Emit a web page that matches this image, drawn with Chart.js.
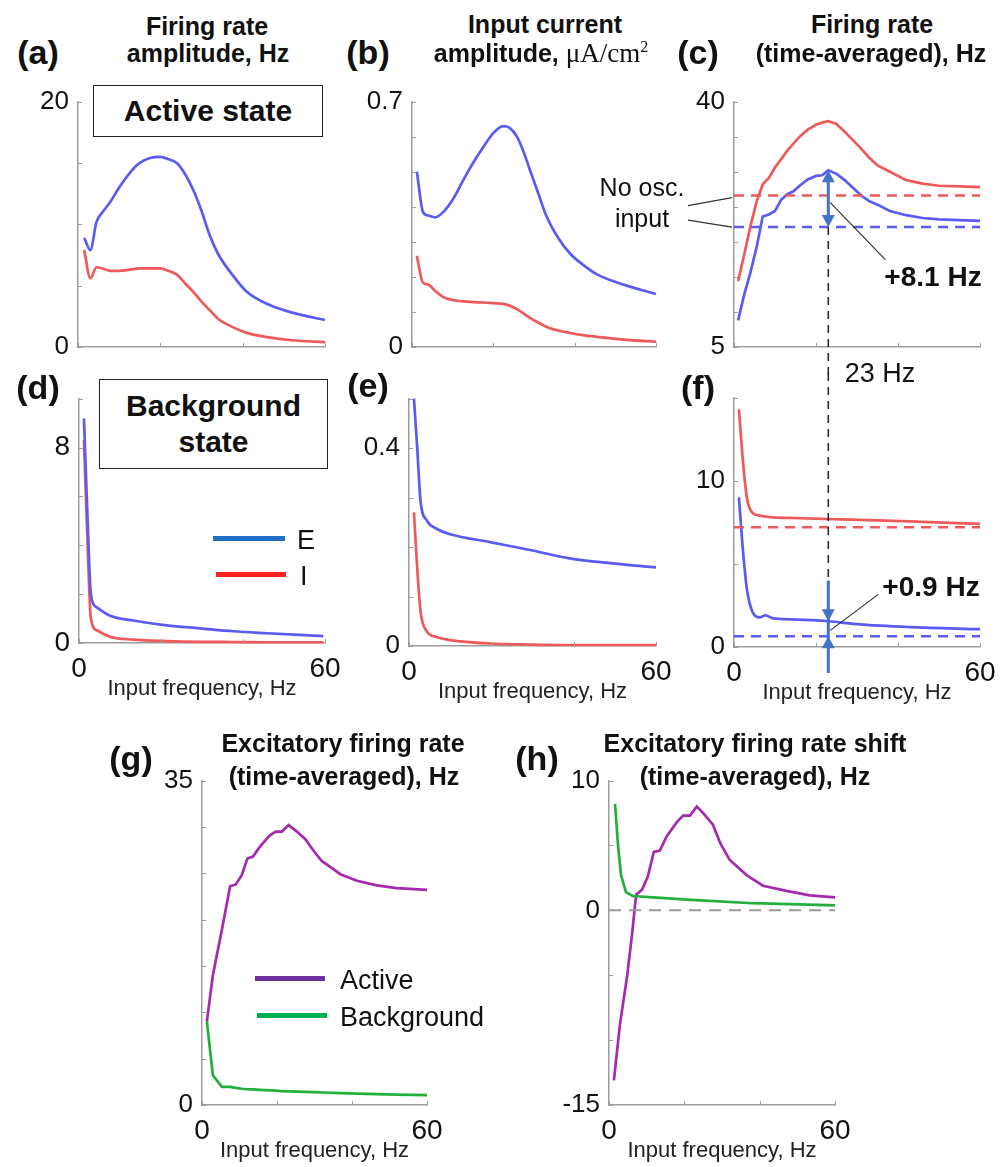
<!DOCTYPE html>
<html><head><meta charset="utf-8">
<script src="https://cdn.jsdelivr.net/npm/chart.js@4.4.1/dist/chart.umd.min.js"></script>
<style>
body{margin:0;background:#fff;width:1002px;height:1167px;position:relative;overflow:hidden;font-family:"Liberation Sans",Arial,sans-serif;color:#111}
canvas{position:absolute}
.t{position:absolute;white-space:nowrap;transform:translate(-50%,-50%);z-index:5;line-height:1}
.l{position:absolute;white-space:nowrap;transform:translate(0,-50%);z-index:5;line-height:1}
.b{font-weight:bold}
.ttl{font-weight:bold;font-size:25px}
.pl{font-weight:bold;font-size:34px}
.box{position:absolute;border:1.5px solid #222;background:#fff;z-index:4;box-sizing:border-box;display:flex;flex-direction:column;align-items:center;justify-content:center;font-weight:bold;font-size:30px;line-height:36px}
.leg{position:absolute;height:5px;z-index:5}
.serif{font-family:"Liberation Serif","Times New Roman",serif;font-weight:normal;font-size:27px}
</style></head><body>

<div class="t pl" style="left:38px;top:52px">(a)</div>
<div class="t ttl" style="left:207px;top:26px">Firing rate</div>
<div class="t ttl" style="left:208px;top:53px">amplitude, Hz</div>
<div class="t pl" style="left:368px;top:52px">(b)</div>
<div class="t ttl" style="left:545px;top:24px">Input current</div>
<div class="t ttl" style="left:541px;top:53px">amplitude, <span class="serif">μA/cm<sup style="font-size:16px">2</sup></span></div>
<div class="t pl" style="left:698px;top:52px">(c)</div>
<div class="t ttl" style="left:872px;top:24px">Firing rate</div>
<div class="t ttl" style="left:871px;top:53px">(time-averaged), Hz</div>

<div class="box" style="left:93px;top:85px;width:230px;height:52px">Active state</div>

<div class="t pl" style="left:38px;top:387px">(d)</div>
<div class="t pl" style="left:368px;top:385px">(e)</div>
<div class="t pl" style="left:698px;top:387px">(f)</div>
<div class="box" style="left:99px;top:379px;width:229px;height:90px"><div>Background</div><div>state</div></div>

<div class="leg" style="left:213px;top:536px;width:72px;background:#1f6fc5"></div>
<div class="l" style="left:297px;top:540px;font-size:27px">E</div>
<div class="leg" style="left:216px;top:572px;width:70px;background:#ff2020"></div>
<div class="l" style="left:300px;top:576px;font-size:27px">I</div>

<div class="t" style="left:642px;top:187px;font-size:25px">No osc.</div>
<div class="t" style="left:642px;top:218px;font-size:25px">input</div>
<div class="t b" style="left:933px;top:277px;font-size:28px">+8.1 Hz</div>
<div class="t" style="left:880px;top:373px;font-size:27px">23 Hz</div>
<div class="t b" style="left:931px;top:587px;font-size:28px">+0.9 Hz</div>

<div class="t pl" style="left:131px;top:758px">(g)</div>
<div class="t ttl" style="left:343px;top:743px">Excitatory firing rate</div>
<div class="t ttl" style="left:344px;top:776px">(time-averaged), Hz</div>
<div class="t pl" style="left:537px;top:758px">(h)</div>
<div class="t ttl" style="left:755px;top:743px">Excitatory firing rate shift</div>
<div class="t ttl" style="left:755px;top:776px">(time-averaged), Hz</div>

<div class="leg" style="left:255px;top:976px;width:70px;background:#7030a0"></div>
<div class="l" style="left:340px;top:980px;font-size:27px">Active</div>
<div class="leg" style="left:257px;top:1013px;width:70px;background:#00b050"></div>
<div class="l" style="left:340px;top:1017px;font-size:27px">Background</div>

<script>
// ---------------- DATA ----------------
const xTicks = [0, 20, 40, 60];
const xTickLabels = ['0', '', '', '60'];

// (a) firing rate amplitude, active state
const freqA = [1.5, 3, 4.5, 6, 7.8, 10, 12.6, 15, 17.5, 20, 22, 24, 26, 28, 30, 32, 34, 37.7, 41, 46, 52, 60];
const ampActiveE = [8.9, 7.9, 10.2, 11.0, 11.8, 13.0, 14.2, 15.0, 15.4, 15.5, 15.3, 15.0, 14.1, 12.8, 11.1, 9.1, 7.6, 5.8, 4.5, 3.5, 2.8, 2.2];
const ampActiveI = [7.9, 5.6, 6.5, 6.4, 6.2, 6.2, 6.3, 6.4, 6.4, 6.4, 6.2, 5.9, 5.2, 4.5, 3.7, 3.0, 2.3, 1.6, 1.15, 0.8, 0.55, 0.4];
const yTicksA = [0, 5, 10, 15, 20];
const yLabelsA = ['0', '', '', '', '20'];

// (b) input current amplitude, active state
const freqB = [1.2, 2.7, 4, 5.7, 7.6, 10, 12.6, 15, 17.5, 20, 22.4, 24, 25.8, 27.5, 29, 31, 33, 36, 38.9, 42, 45.5, 52, 60];
const curActiveE = [0.50, 0.385, 0.375, 0.37, 0.384, 0.42, 0.476, 0.525, 0.57, 0.61, 0.63, 0.625, 0.60, 0.555, 0.505, 0.44, 0.375, 0.31, 0.266, 0.235, 0.207, 0.178, 0.151];
const curActiveI = [0.26, 0.183, 0.178, 0.16, 0.143, 0.134, 0.13, 0.128, 0.127, 0.125, 0.123, 0.118, 0.108, 0.095, 0.083, 0.07, 0.058, 0.047, 0.04, 0.034, 0.029, 0.021, 0.015];
const yTicksB = [0, 0.1, 0.2, 0.3, 0.4, 0.5, 0.6, 0.7];
const yLabelsB = ['0', '', '', '', '', '', '', '0.7'];

// (c) time-averaged firing rate, active state
const freqC = [1, 2.5, 4, 5.5, 7, 8.5, 10, 11.5, 13, 14.5, 16, 18, 20, 21.5, 23, 25, 27, 29, 31, 33, 35, 38, 42, 46, 50, 55, 60];
const meanActiveE = [8.8, 12.5, 15.6, 19.2, 23.6, 23.9, 24.4, 26.0, 26.8, 27.2, 28.0, 28.9, 29.4, 29.5, 30.2, 29.7, 28.8, 27.7, 26.6, 25.8, 25.3, 24.4, 23.8, 23.4, 23.2, 23.1, 23.0];
const meanActiveI = [14.4, 18.2, 22.2, 25.7, 28.2, 29.1, 30.6, 31.8, 33.0, 34.0, 35.0, 36.0, 36.7, 37.0, 37.2, 36.8, 35.7, 34.5, 33.3, 32.0, 30.9, 30.0, 28.8, 28.3, 28.0, 27.9, 27.8];
const noOscActiveE = 22.1;
const noOscActiveI = 26.6;
const yTicksC = [5, 10, 15, 20, 25, 30, 35, 40];
const yLabelsC = ['5', '', '', '', '', '', '', '40'];

const markFreq = 23;   // highlighted input frequency, Hz

// (d) firing rate amplitude, background state
const freqD = [1.2, 2.0, 2.9, 4.4, 7.6, 13.2, 21.4, 29.5, 37.6, 45.8, 59.6];
const ampBgE = [9.2, 5.5, 2.0, 1.45, 1.12, 0.92, 0.72, 0.6, 0.48, 0.4, 0.28];
const ampBgI = [8.3, 4.5, 1.0, 0.52, 0.25, 0.14, 0.08, 0.05, 0.04, 0.03, 0.03];
const yTicksD = [0, 2, 4, 6, 8, 10];
const yLabelsD = ['0', '', '', '', '8', ''];

// (e) input current amplitude, background state
const freqE = [1.2, 2.0, 2.8, 4.3, 6.7, 10, 19.7, 29.4, 39, 49.5, 60];
const curBgE = [0.50, 0.40, 0.293, 0.254, 0.237, 0.226, 0.21, 0.194, 0.177, 0.167, 0.159];
const curBgI = [0.27, 0.157, 0.07, 0.03, 0.018, 0.012, 0.005, 0.003, 0.002, 0.002, 0.002];
const yTicksE = [0, 0.1, 0.2, 0.3, 0.4, 0.5];
const yLabelsE = ['0', '', '', '', '0.4', ''];

// (f) time-averaged firing rate, background state
const freqF = [1.2, 2.2, 3.2, 4.6, 6.3, 7.6, 9.6, 14.4, 23, 30.7, 42.9, 60];
const meanBgE = [9.0, 5.75, 3.4, 2.07, 1.78, 1.9, 1.72, 1.66, 1.55, 1.36, 1.2, 1.07];
const meanBgI = [14.3, 11.1, 8.9, 8.05, 7.9, 7.85, 7.8, 7.76, 7.7, 7.65, 7.55, 7.4];
const noOscBgE = 0.65;
const noOscBgI = 7.2;
const yTicksF = [0, 5, 10, 15];
const yLabelsF = ['0', '', '10', ''];

// (g) excitatory firing rate (time-averaged)
const freqG = [1.3, 2.9, 5.3, 7.5, 9, 10.6, 12.1, 13.6, 15.5, 18.1, 19.7, 21.3, 23.1, 25.3, 27.5, 29.8, 32, 34.2, 36.9, 41.3, 46.6, 51.9, 60];
const excActive = [9.0, 14, 18.9, 23.6, 23.8, 24.8, 26.6, 26.8, 27.9, 29.1, 29.5, 29.5, 30.2, 29.5, 28.7, 27.4, 26.3, 25.7, 24.9, 24.2, 23.7, 23.4, 23.2];
const excBackground = [9.0, 3.2, 1.95, 1.95, 1.85, 1.75, 1.7, 1.68, 1.63, 1.58, 1.55, 1.5, 1.48, 1.45, 1.42, 1.38, 1.35, 1.32, 1.28, 1.22, 1.17, 1.12, 1.07];
const yTicksG = [0, 5, 10, 15, 20, 25, 30, 35];
const yLabelsG = ['0', '', '', '', '', '', '', '35'];

// (h) excitatory firing rate shift (time-averaged)
const freqHActive = [1.3, 2.9, 4.8, 6.1, 7.2, 8.8, 10.3, 11.9, 13.5, 15.3, 18, 19.7, 21.5, 23.3, 25, 27.6, 29.5, 32, 36.6, 40.9, 47.1, 53.3, 60];
const shiftActive = [-13.1, -8.8, -5.1, -1.9, 1.2, 1.6, 2.6, 4.5, 4.6, 5.7, 6.8, 7.3, 7.3, 8.0, 7.5, 6.6, 5.2, 3.9, 2.7, 1.9, 1.5, 1.16, 1.0];
const freqHBg = [1.6, 2.4, 3.2, 4.5, 6.4, 8.2, 11.7, 20.7, 38.2, 60];
const shiftBackground = [8.2, 5.0, 2.7, 1.4, 1.1, 1.07, 1.0, 0.83, 0.55, 0.38];
const shiftZero = 0;
const yTicksH = [-15, -10, -5, 0, 5, 10];
const yLabelsH = ['-15', '', '', '0', '', '10'];

// ---------------- STYLE ----------------
const AXIS = '#9c9c9c';
const BLUE = '#5b5bf2', RED = '#ee5a5a', PURPLE = '#a42aae', GREEN = '#22b03a', ARROW = '#4472c4';
Chart.defaults.font.family = '"Liberation Sans", Arial, sans-serif';
Chart.defaults.color = '#111';

function pts(xs, ys) { return xs.map((x, i) => ({ x: x, y: ys[i] })); }
function flat(v) { return [{ x: 0, y: v }, { x: 60, y: v }]; }
function ds(data, color, smooth, extra) {
  return Object.assign({ data: data, borderColor: color, borderWidth: 2.7, pointRadius: 0, fill: false,
    tension: smooth ? 0.4 : 0, cubicInterpolationMode: smooth ? 'monotone' : 'default', clip: false }, extra || {});
}
function dashed(v, color) { return ds(flat(v), color, false, { borderDash: [10, 7], borderWidth: 2.5 }); }

const inTicks = {
  id: 'inTicks',
  afterDraw(chart) {
    const { ctx, chartArea: a, scales: { x, y } } = chart;
    ctx.save();
    ctx.strokeStyle = AXIS; ctx.lineWidth = 1;
    x.ticks.forEach(t => { const p = Math.round(x.getPixelForValue(t.value)) + 0.5; ctx.beginPath(); ctx.moveTo(p, a.bottom); ctx.lineTo(p, a.bottom - 4); ctx.stroke(); });
    y.ticks.forEach(t => { const p = Math.round(y.getPixelForValue(t.value)) + 0.5; ctx.beginPath(); ctx.moveTo(a.left, p); ctx.lineTo(a.left + 4, p); ctx.stroke(); });
    ctx.restore();
  }
};

function seg(ctx, x1, y1, x2, y2) { ctx.beginPath(); ctx.moveTo(x1, y1); ctx.lineTo(x2, y2); ctx.stroke(); }
function tri(ctx, x, tipY, dir) { // dir -1: points up, +1: points down
  ctx.beginPath(); ctx.moveTo(x, tipY); ctx.lineTo(x - 6.5, tipY - dir * 12); ctx.lineTo(x + 6.5, tipY - dir * 12); ctx.closePath(); ctx.fill();
}

const annotC = {
  id: 'annotC',
  afterDatasetsDraw(chart) {
    const { ctx, chartArea: a, scales: { x, y } } = chart;
    const px = x.getPixelForValue(markFreq);
    const peak = meanActiveE[freqC.indexOf(markFreq)];
    const yPeak = y.getPixelForValue(peak), yBase = y.getPixelForValue(noOscActiveE), yI = y.getPixelForValue(noOscActiveI);
    ctx.save();
    ctx.strokeStyle = '#222'; ctx.lineWidth = 1.5; ctx.setLineDash([8, 6]);
    seg(ctx, px, yBase, px, chart.height);
    ctx.setLineDash([]);
    ctx.strokeStyle = ARROW; ctx.fillStyle = ARROW; ctx.lineWidth = 3;
    seg(ctx, px, yPeak + 8, px, yBase - 8);
    tri(ctx, px, yPeak, -1); tri(ctx, px, yBase, 1);
    ctx.strokeStyle = '#333'; ctx.lineWidth = 1.2;
    const ym = y.getPixelForValue(25.6);
    seg(ctx, px + 2, ym, px + 57, ym + 57);
    seg(ctx, a.left - 46, yI + 10, a.left - 2, yI + 2);
    seg(ctx, a.left - 46, yBase - 7, a.left - 2, yBase);
    ctx.restore();
  }
};

const annotF = {
  id: 'annotF',
  afterDatasetsDraw(chart) {
    const { ctx, chartArea: a, scales: { x, y } } = chart;
    const px = x.getPixelForValue(markFreq);
    const yTop = y.getPixelForValue(4.0);
    const yCurve = y.getPixelForValue(meanBgE[freqF.indexOf(markFreq)]);
    const yBase = y.getPixelForValue(noOscBgE);
    ctx.save();
    ctx.strokeStyle = '#222'; ctx.lineWidth = 1.5; ctx.setLineDash([8, 6]);
    seg(ctx, px, 0, px, yTop);
    ctx.setLineDash([]);
    ctx.strokeStyle = ARROW; ctx.fillStyle = ARROW; ctx.lineWidth = 3;
    seg(ctx, px, yTop, px, a.bottom + 26);
    tri(ctx, px, yCurve, 1); tri(ctx, px, yBase, -1);
    ctx.strokeStyle = '#333'; ctx.lineWidth = 1.2;
    const ym = y.getPixelForValue(1.0);
    seg(ctx, px + 2, ym, px + 50, ym - 36);
    ctx.restore();
  }
};

function build(cfg) {
  const YW = 60, PT = 20, PR = 30;
  const XH = cfg.xLabels ? 62 : 5, PB = cfg.xLabels ? 0 : 22;
  const w = (cfg.R - cfg.L) + YW + PR, h = (cfg.B - cfg.T) + PT + XH + PB;
  const cv = document.createElement('canvas');
  cv.width = w; cv.height = h;
  cv.style.left = (cfg.L - YW) + 'px'; cv.style.top = (cfg.T - PT) + 'px';
  cv.style.width = w + 'px'; cv.style.height = h + 'px';
  document.body.appendChild(cv);
  return new Chart(cv, {
    type: 'line',
    data: { datasets: cfg.datasets },
    options: {
      responsive: false, animation: false, devicePixelRatio: 1,
      layout: { padding: { top: PT, right: PR, bottom: PB, left: 0 } },
      plugins: { legend: { display: false }, tooltip: { enabled: false } },
      scales: {
        x: {
          type: 'linear', min: 0, max: 60,
          afterFit: s => { s.height = XH; },
          afterBuildTicks: s => { s.ticks = xTicks.map(v => ({ value: v })); },
          grid: { display: false, drawTicks: false },
          border: { color: AXIS, width: 1.5 },
          ticks: { display: !!cfg.xLabels, autoSkip: false, maxRotation: 0, padding: 9, color: '#111', font: { size: 28 }, callback: (v, i) => xTickLabels[i] },
          title: { display: !!cfg.xLabels, text: 'Input frequency, Hz', color: '#222', font: { size: 22 }, padding: { top: 0, bottom: 3 } }
        },
        y: {
          type: 'linear', min: cfg.yTicks[0], max: cfg.yTicks[cfg.yTicks.length - 1],
          afterFit: s => { s.width = YW; },
          afterBuildTicks: s => { s.ticks = cfg.yTicks.map(v => ({ value: v })); },
          grid: { display: false, drawTicks: false },
          border: { color: AXIS, width: 1.5 },
          ticks: { autoSkip: false, padding: 9, color: '#111', font: { size: cfg.yFont || 26 }, callback: (v, i) => cfg.yLabels[i] }
        }
      }
    },
    plugins: [inTicks].concat(cfg.plugins || [])
  });
}

build({ L: 78, T: 97, R: 325, B: 347, yTicks: yTicksA, yLabels: yLabelsA,
  datasets: [ds(pts(freqA, ampActiveI), RED, true), ds(pts(freqA, ampActiveE), BLUE, true)] });
build({ L: 412, T: 97, R: 656, B: 347, yTicks: yTicksB, yLabels: yLabelsB,
  datasets: [ds(pts(freqB, curActiveI), RED, true), ds(pts(freqB, curActiveE), BLUE, true)] });
build({ L: 734, T: 97, R: 980, B: 347, yTicks: yTicksC, yLabels: yLabelsC, plugins: [annotC],
  datasets: [dashed(noOscActiveI, RED), dashed(noOscActiveE, BLUE), ds(pts(freqC, meanActiveI), RED, false), ds(pts(freqC, meanActiveE), BLUE, false)] });
build({ L: 79, T: 393, R: 325, B: 643, yTicks: yTicksD, yLabels: yLabelsD, xLabels: true, yFont: 28,
  datasets: [ds(pts(freqD, ampBgE), BLUE, true), ds(pts(freqD, ampBgI), RED, true)] });
build({ L: 409, T: 394, R: 656, B: 646, yTicks: yTicksE, yLabels: yLabelsE, xLabels: true,
  datasets: [ds(pts(freqE, curBgI), RED, true), ds(pts(freqE, curBgE), BLUE, true)] });
build({ L: 734, T: 393, R: 980, B: 647, yTicks: yTicksF, yLabels: yLabelsF, xLabels: true, plugins: [annotF],
  datasets: [dashed(noOscBgI, RED), dashed(noOscBgE, BLUE), ds(pts(freqF, meanBgI), RED, true), ds(pts(freqF, meanBgE), BLUE, true)] });
build({ L: 202, T: 776, R: 427, B: 1105, yTicks: yTicksG, yLabels: yLabelsG, xLabels: true,
  datasets: [ds(pts(freqG, excBackground), GREEN, false), ds(pts(freqG, excActive), PURPLE, false)] });
build({ L: 609, T: 776, R: 835, B: 1105, yTicks: yTicksH, yLabels: yLabelsH, xLabels: true,
  datasets: [ds(flat(shiftZero), '#9a9a9a', false, { borderDash: [12, 8], borderWidth: 2 }),
             ds(pts(freqHBg, shiftBackground), GREEN, false), ds(pts(freqHActive, shiftActive), PURPLE, false)] });
</script>
</body></html>
